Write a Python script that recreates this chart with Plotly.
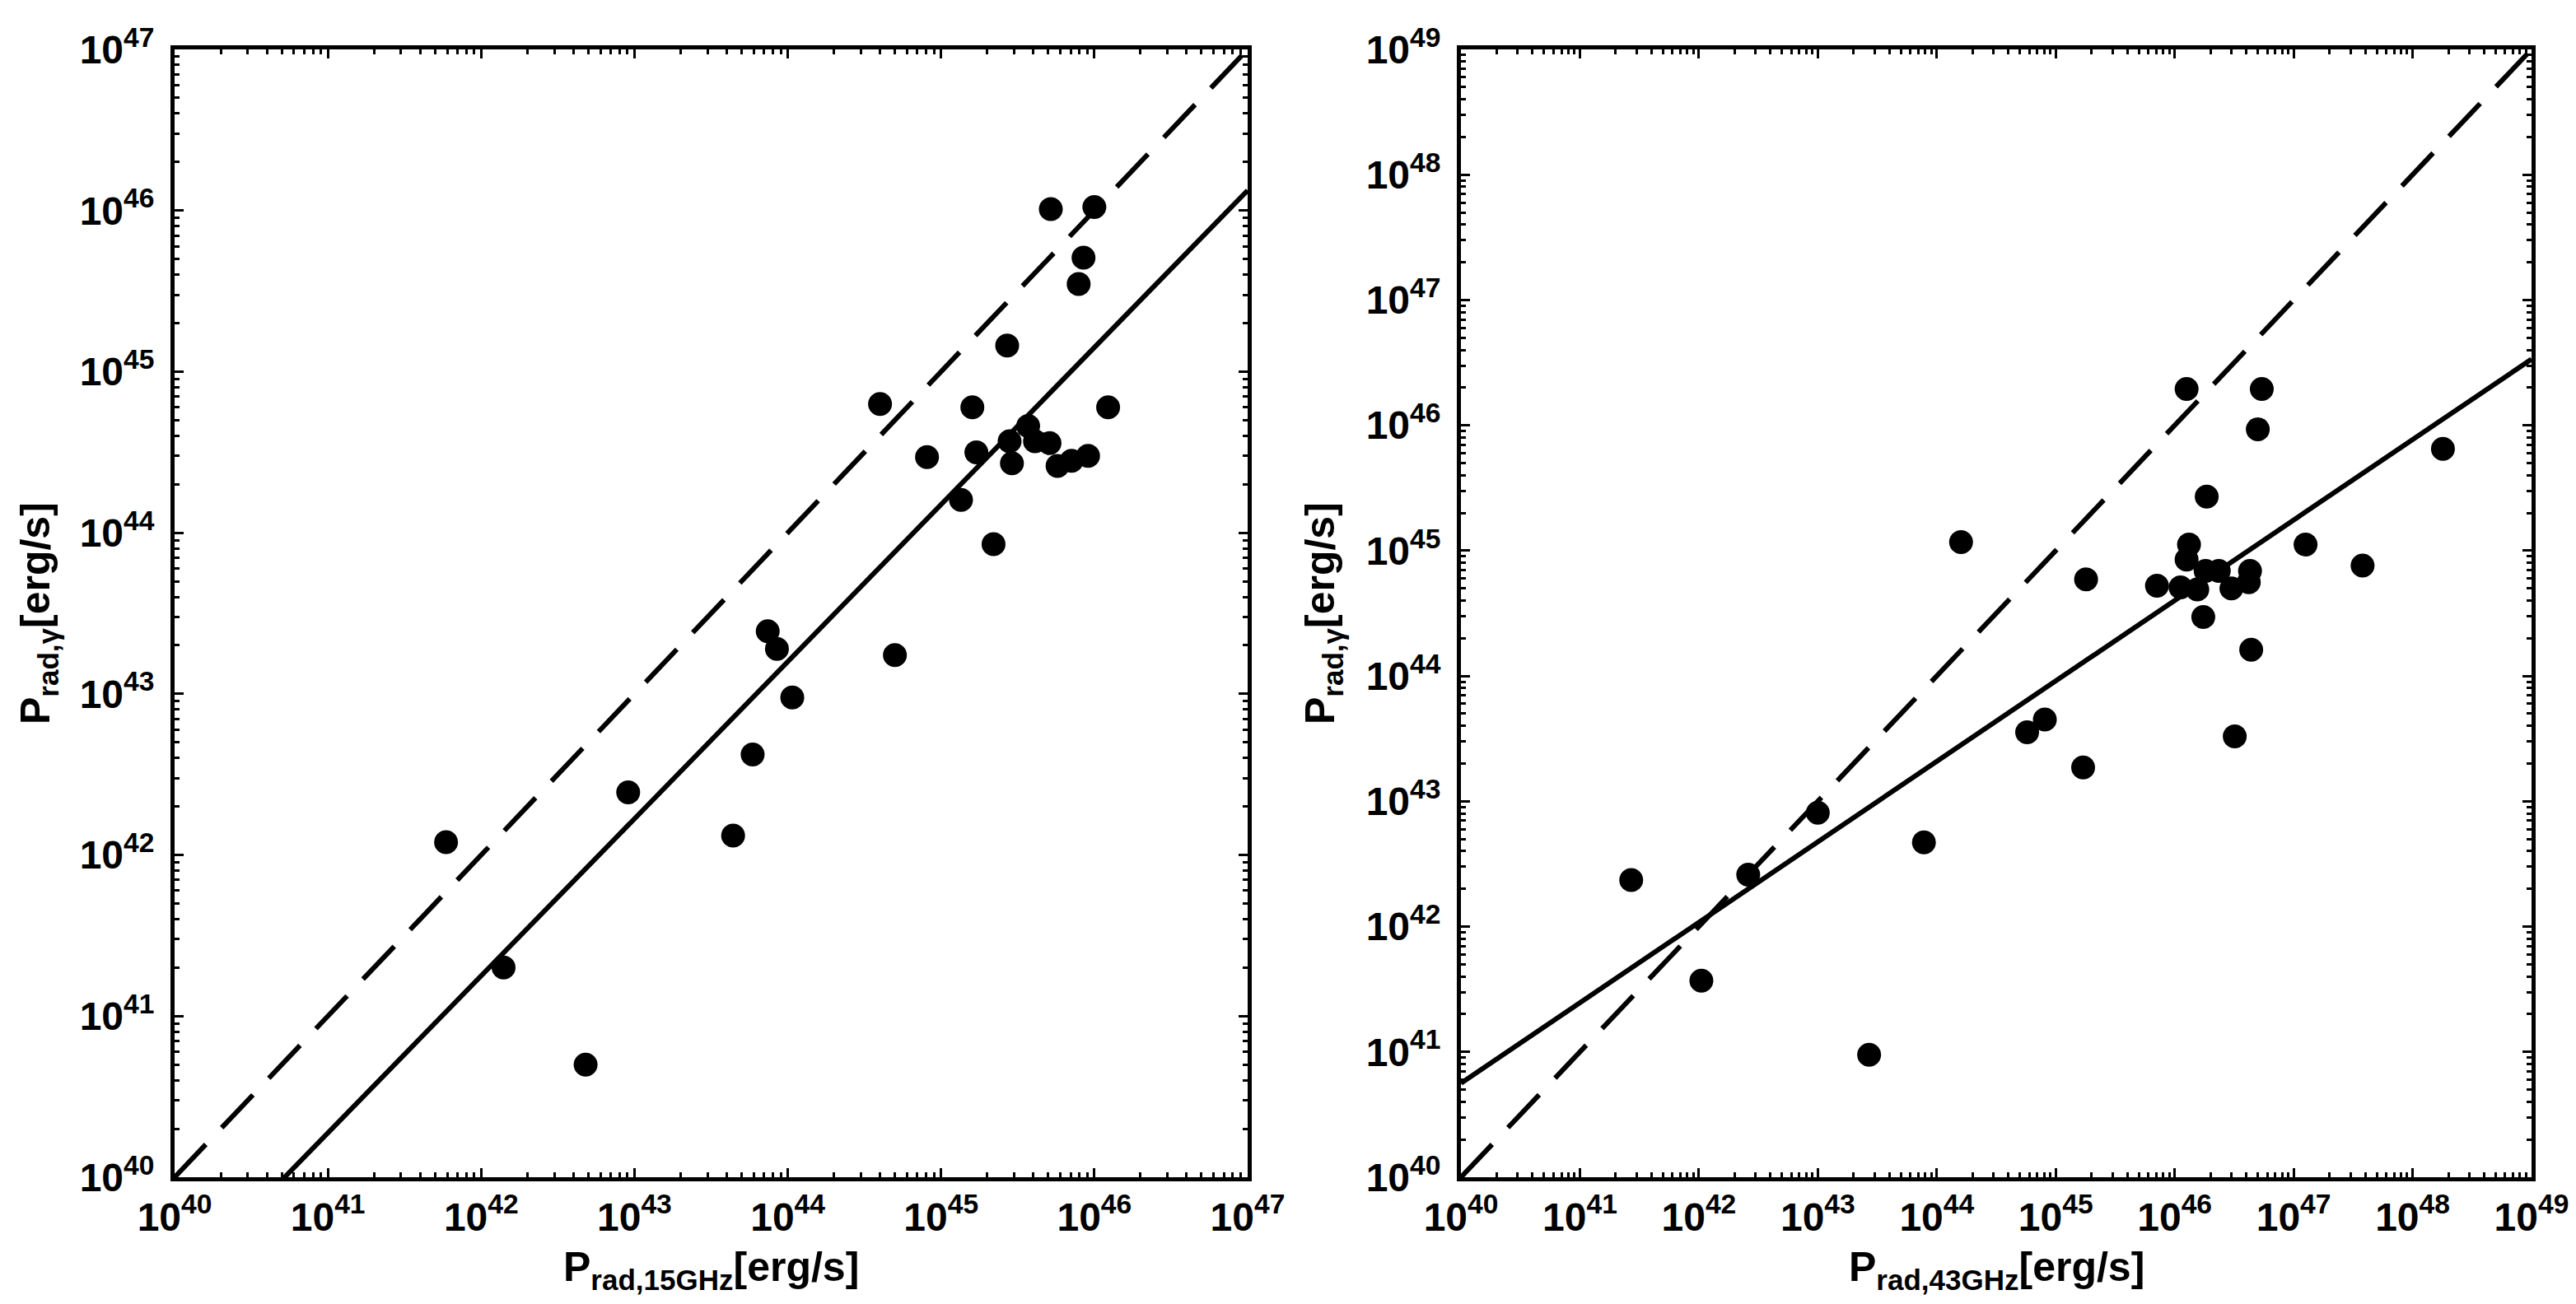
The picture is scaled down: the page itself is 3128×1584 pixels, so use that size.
import plotly.graph_objects as go
import numpy as np

# radio power at 15 GHz vs gamma-ray power (erg/s)
p_rad_15 = [5.2e45, 1.0e46, 8.5e45, 7.9e45, 2.7e45, 4.0e44, 1.6e45, 1.23e46, 8.1e44, 1.7e45,
            2.8e45, 3.7e45, 4.1e45, 5.1e45, 2.9e45, 5.75e45, 7.1e45, 9.1e45, 1.35e45, 2.2e45,
            7.4e43, 8.5e43, 5.0e44, 1.07e44, 5.9e43, 9.1e42, 4.4e43, 4.8e42, 5.9e41, 1.4e42]
p_gam_15 = [1.02e46, 1.05e46, 5.1e45, 3.5e45, 1.45e45, 6.3e44, 6.0e44, 6.0e44, 2.95e44, 3.15e44,
            3.7e44, 4.6e44, 3.7e44, 3.6e44, 2.7e44, 2.6e44, 2.8e44, 3.0e44, 1.6e44, 8.5e43,
            2.45e43, 1.9e43, 1.74e43, 9.5e42, 4.2e42, 2.45e42, 1.32e42, 5.0e40, 1.2e42, 2.0e41]

# radio power at 43 GHz vs gamma-ray power (erg/s), right panel
p_rad_43 = [1.6e44, 1.26e46, 5.4e46, 5.0e46, 1.8e48, 1.86e46, 1.26e47, 3.8e47, 1.8e45, 7.1e45,
            1.32e46, 1.26e46, 1.12e46, 1.55e46, 1.82e46, 2.35e46, 4.3e46, 4.2e46, 3.0e46, 1.74e46,
            4.4e46, 8.1e44, 5.75e44, 1.7e45, 3.2e46, 2.7e41, 2.6e42, 1.0e43, 1.05e42, 2.7e43, 7.8e43]
p_gam_43 = [1.17e45, 1.95e46, 1.95e46, 9.3e45, 6.5e45, 2.7e45, 1.12e45, 7.6e44, 5.9e44, 5.25e44,
            1.12e45, 8.5e44, 5.1e44, 4.9e44, 6.9e44, 6.9e44, 6.9e44, 5.6e44, 5.0e44, 2.95e44,
            1.62e44, 4.5e43, 3.55e43, 1.86e43, 3.3e43, 2.35e42, 2.6e42, 8.1e42, 3.7e41, 9.5e40, 4.7e42]

# fitted power laws: log P_gamma = intercept + slope * log P_rad
fit_15 = {"slope": 0.975, "intercept": 0.30}
fit_43 = {"slope": 0.642, "intercept": 15.07}

# decades shown on each panel (both axes)
decades_15 = list(range(40, 48))
decades_43 = list(range(40, 50))

FONT = "Liberation Sans, Arial"

fig = go.Figure()

def add_panel(x, y, fit, dec, xa, ya):
    # one-to-one line (dashed)
    ends = np.array([10.0 ** dec[0], 10.0 ** dec[-1]])
    fig.add_trace(go.Scatter(x=ends, y=ends, mode="lines", xaxis=xa, yaxis=ya,
                             line=dict(color="black", width=6, dash="55px,28px")))
    # best fit (solid)
    lx = np.linspace(dec[0], dec[-1], 50)
    fig.add_trace(go.Scatter(x=10.0 ** lx, y=10.0 ** (fit["intercept"] + fit["slope"] * lx),
                             mode="lines", xaxis=xa, yaxis=ya,
                             line=dict(color="black", width=6)))
    # data points
    fig.add_trace(go.Scatter(x=x, y=y, mode="markers", xaxis=xa, yaxis=ya,
                             marker=dict(color="black", size=29, line=dict(width=0))))

add_panel(p_rad_15, p_gam_15, fit_15, decades_15, "x", "y")
add_panel(p_rad_43, p_gam_43, fit_43, decades_43, "x2", "y2")

def log_axis(dec, standoff):
    # major ticks at every decade, minor ticks at 2..9
    major = [10.0 ** d for d in dec]
    minor = [m * 10.0 ** d for d in dec[:-1] for m in range(2, 10)]
    return dict(type="log", range=[dec[0] - 1e-4, dec[-1] + 1e-4],
                showgrid=False, zeroline=False, showline=True, linewidth=5,
                linecolor="black", mirror="ticks", ticks="inside", ticklen=11, tickwidth=3,
                tickcolor="black", tickmode="array", tickvals=major,
                ticktext=["10<sup>%d</sup>" % d for d in dec],
                automargin=False, ticklabelstandoff=standoff,
                tickfont=dict(family=FONT, size=48, color="black", weight="bold"),
                minor=dict(ticks="inside", ticklen=6, tickwidth=2.5, tickcolor="black",
                           tickmode="array", tickvals=minor, showgrid=False))

W, H = 3128, 1584
top, bottom = 1 - 52 / H, 1 - 1422 / H
dom_left = [204 / W, 1507 / W]
dom_right = [1766 / W, 3066 / W]

fig.update_layout(
    width=W, height=H, showlegend=False,
    paper_bgcolor="white", plot_bgcolor="white",
    margin=dict(l=0, r=0, t=0, b=0),
    xaxis=dict(log_axis(decades_15, 2), domain=dom_left, anchor="y"),
    yaxis=dict(log_axis(decades_15, 10), domain=[bottom, top], anchor="x"),
    xaxis2=dict(log_axis(decades_43, 2), domain=dom_right, anchor="y2"),
    yaxis2=dict(log_axis(decades_43, 10), domain=[bottom, top], anchor="x2"),
)

title_font = dict(family=FONT, size=50, color="black", weight="bold")
titles = [
    ("P<sub>rad,15GHz</sub>[erg/s]", sum(dom_left) / 2, 1 - 1534 / H, 0),
    ("P<sub>rad,43GHz</sub>[erg/s]", sum(dom_right) / 2, 1 - 1534 / H, 0),
    ("P<sub>rad,γ</sub>[erg/s]", 38 / W, (top + bottom) / 2, -90),
    ("P<sub>rad,γ</sub>[erg/s]", 1598 / W, (top + bottom) / 2, -90),
]
for text, x, y, ang in titles:
    fig.add_annotation(text=text, x=x, y=y, xref="paper", yref="paper", showarrow=False,
                       textangle=ang, font=title_font, xanchor="center", yanchor="middle")

fig.write_html("out.html")
